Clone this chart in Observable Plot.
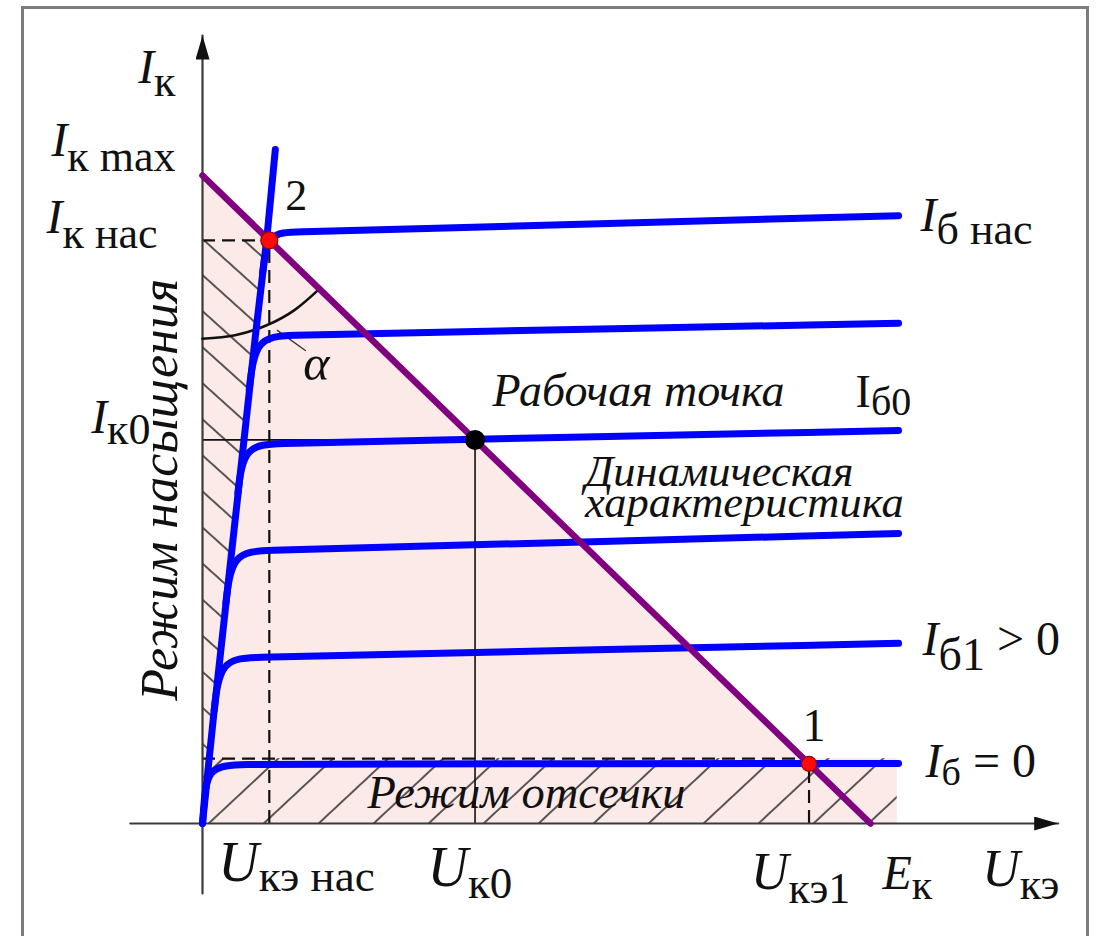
<!DOCTYPE html>
<html><head><meta charset="utf-8">
<script src="https://cdn.jsdelivr.net/npm/d3@7"></script>
<script src="https://cdn.jsdelivr.net/npm/@observablehq/plot@0.6"></script>
<style>
html,body{margin:0;padding:0;background:#fff;}
#wrap{position:relative;width:1097px;height:936px;overflow:hidden;background:#fff;}
#border{position:absolute;left:21px;top:6px;width:1068px;height:980px;border:3px solid #7c7c7c;box-sizing:border-box;pointer-events:none;}
#chart svg{display:block;}
</style></head>
<body><div id="wrap"><div id="chart"></div><div id="border"></div></div>
<script>
// ---------- data (U in arbitrary volts, I in arbitrary mA; Ek = 10, Ik max = 10) ----------
const Ek = 10, IkMax = 10;
const UkeNas = 1.0, IkNas = 9.0;        // point 2
const Uk0 = 4.08, Ik0 = 5.92;           // working point
const Uke1 = 9.08, Ik1 = 0.92;          // point 1
const IcutLevel = 1.0;                  // top of cut-off region
const UcutEnd = 10.4;                   // right end of cut-off region
const xAxisExt = [-1.08, 12.81];
const yAxisExt = [-1.08, 12.16];

const loadLine = [[0, IkMax], [Ek, 0]];
const envelope = [[0,0],[0.05,0.5],[0.16,1.6],[0.32,3.1],[0.48,4.6],[0.63,6.0],[0.80,7.6],[0.96,9.0],[1.09,10.4]];
const curveIbNas = [[0.90,8.5],[0.975,9.12],[1.4,9.13],[2.5,9.16],[10.42,9.38]];
const curve2     = [[0.70,6.7],[0.79,7.5],[1.3,7.535],[2.4,7.56],[10.42,7.72]];
const curveIb0   = [[0.53,5.1],[0.615,5.84],[1.15,5.865],[2.2,5.89],[10.42,6.065]];
const curve4     = [[0.35,3.4],[0.438,4.19],[0.98,4.215],[2.0,4.245],[10.42,4.475]];
const curveIb1   = [[0.175,1.75],[0.262,2.54],[0.8,2.565],[1.8,2.59],[10.42,2.78]];
const curveIbZero= [[0,0],[0.025,0.35],[0.075,0.88],[0.6,0.915],[1.6,0.918],[10.42,0.926]];
const curves = [curveIbNas, curve2, curveIb0, curve4, curveIb1, curveIbZero];
const alphaArc = [[0,7.48],[0.487,7.535],[0.953,7.685],[1.382,7.927],[1.75,8.25]];
const alphaLeader = [[1.12,7.61],[1.54,7.30]];

const yLabels = ["I_к", "I_к max", "I_к нас", "I_к0"];
const xLabels = ["U_кэ нас", "U_к0", "U_кэ1", "E_к", "U_кэ"];
const curveLabels = ["I_б нас", "I_б0", "I_б1_ > 0", "I_б_ = 0"];
const regionLabels = ["Режим насыщения", "Режим отсечки", "Рабочая точка", "Динамическая\nхарактеристика"];
const pointLabels = ["1", "2", "α"];

// ---------- styles ----------
const SERIF = "'Liberation Serif', 'Times New Roman', serif";
const BLUE = "#0000ff", PURPLE = "#800080", PINK = "#fbeae8", INK = "#111";
const registry = [];
let lblId = 0;
function label(text, x, y, o, sub) {
  const id = "lbl" + (lblId++);
  if (sub) registry.push({id, ...sub});
  return Plot.text([{x, y, text}], {x: "x", y: "y", text: "text", fontFamily: SERIF, fill: INK,
    lineAnchor: "bottom", textAnchor: "start", fontStyle: "italic", ariaDescription: id, ...o});
}
const sat = () => {
  const envU = d3.scaleLinear(envelope.map(d => d[1]), envelope.map(d => d[0]));
  return [[envU(IcutLevel), IcutLevel], ...envelope.filter(d => d[1] > IcutLevel && d[1] < IkNas), [envU(IkNas), IkNas]];
};
const dash = {stroke: INK, strokeWidth: 2.2, strokeDasharray: "13,7"};

const marks = [
  Plot.areaY(loadLine, {x: d => d[0], y: d => d[1], fill: PINK}),
  Plot.rect([{x1: 0, x2: UcutEnd, y1: 0, y2: IcutLevel}], {x1: "x1", x2: "x2", y1: "y1", y2: "y2", fill: PINK}),
  Plot.areaX(sat(), {x1: 0, x2: d => d[0], y: d => d[1], fill: "url(#hatchSat)"}),
  Plot.rect([{x1: 0, x2: UcutEnd, y1: 0, y2: IcutLevel}], {x1: "x1", x2: "x2", y1: "y1", y2: "y2", fill: "url(#hatchCut)"}),
  Plot.ruleY([Ik0], {x1: 0, x2: Uk0, stroke: INK, strokeWidth: 1.6}),
  Plot.ruleX([Uk0], {y1: 0, y2: Ik0, stroke: INK, strokeWidth: 1.6}),
  Plot.ruleY([IkNas], {x1: 0, x2: UkeNas, ...dash}),
  Plot.ruleX([UkeNas], {y1: 0, y2: IkNas, ...dash}),
  Plot.ruleY([IcutLevel], {x1: 0, x2: Uke1, ...dash}),
  Plot.ruleX([Uke1], {y1: 0, y2: Ik1, ...dash}),
  Plot.line([[xAxisExt[0], 0], [xAxisExt[1], 0]], {stroke: "#3a3a3a", strokeWidth: 2.2, ariaDescription: "axis"}),
  Plot.line([[0, yAxisExt[0]], [0, yAxisExt[1]]], {stroke: "#3a3a3a", strokeWidth: 2.2, ariaDescription: "axis"}),
  Plot.line(alphaArc, {curve: "natural", stroke: INK, strokeWidth: 2.6}),
  Plot.line(alphaLeader, {stroke: "#333", strokeWidth: 1.3}),
  Plot.line(envelope, {stroke: BLUE, strokeWidth: 7, strokeLinecap: "round", strokeLinejoin: "round"}),
  ...curves.map(c => Plot.line(c, {curve: "basis", stroke: BLUE, strokeWidth: 7, strokeLinecap: "round"})),
  Plot.line(loadLine, {stroke: PURPLE, strokeWidth: 6.5}),
  Plot.dot([[UkeNas, IkNas]], {r: 8.5, fill: "#ff0a0a", stroke: "#990000", strokeWidth: 1.2}),
  Plot.dot([[Uke1, Ik1]], {r: 7.5, fill: "#ff0a0a", stroke: "#990000", strokeWidth: 1.2}),
  Plot.dot([[Uk0, Ik0]], {r: 10, fill: "#000"}),
  // y-axis labels
  label(yLabels[0], 0, yAxisExt[1], {textAnchor: "end", dx: -27, dy: 47, fontSize: 48}, {sub: 44, shift: 13}),
  label(yLabels[1], 0, IkMax, {textAnchor: "end", dx: -27, dy: -20, fontSize: 48}, {sub: 44, shift: 15}),
  label(yLabels[2], 0, IkNas, {textAnchor: "end", dx: -45, dy: -7, fontSize: 48}, {sub: 44, shift: 15}),
  label(yLabels[3], 0, Ik0, {textAnchor: "end", dx: -52, dy: -7, fontSize: 48}, {sub: 44, shift: 11}),
  // x-axis labels
  label(xLabels[0], UkeNas, 0, {dx: -51, dy: 57, fontSize: 56}, {sub: 45, shift: 10}),
  label(xLabels[1], Uk0, 0, {dx: -47.5, dy: 62, fontSize: 56}, {sub: 45, shift: 12}),
  label(xLabels[2], Uke1, 0, {dx: -58, dy: 65, fontSize: 52}, {sub: 44, shift: 14}),
  label(xLabels[3], Ek, 0, {dx: 12, dy: 65, fontSize: 48}, {sub: 42, shift: 10}),
  label(xLabels[4], xAxisExt[1], 0, {dx: -76, dy: 62, fontSize: 52}, {sub: 44, shift: 13}),
  // curve labels
  label(curveLabels[0], 10.42, 9.38, {dx: 22, dy: 15, fontSize: 48}, {sub: 44, shift: 13}),
  label(curveLabels[1], 10.42, 6.065, {dx: -43, dy: -23, fontSize: 46, fontStyle: "normal"}, {sub: 40, shift: 8}),
  label(curveLabels[2], 10.42, 2.78, {dx: 24, dy: 12, fontSize: 48}, {sub: 46, shift: 15}),
  label(curveLabels[3], 10.42, 0.926, {dx: 27, dy: 14, fontSize: 48}, {sub: 38, shift: 8}),
  // region labels
  label(regionLabels[0], 0, IkNas / 2, {textAnchor: "middle", lineAnchor: "middle", rotate: -90, dx: -42, dy: -42, fontSize: 52}),
  label(regionLabels[1], 0, 0, {dx: 165, dy: -16, fontSize: 46.5}),
  label(regionLabels[2], Uk0, Ik0, {dx: 17.5, dy: -34, fontSize: 46}),
  label(regionLabels[3], Uk0, Ik0, {dx: 110, dy: 77, fontSize: 44.5, lineHeight: 0.7}),
  // point labels
  label(pointLabels[0], Uke1, Ik1, {textAnchor: "middle", dx: 5, dy: -23, fontSize: 46, fontStyle: "normal"}),
  label(pointLabels[1], UkeNas, IkNas, {textAnchor: "middle", dx: 27, dy: -30, fontSize: 44, fontStyle: "normal"}),
  label(pointLabels[2], alphaLeader[1][0], alphaLeader[1][1], {dx: -2, dy: 30, fontSize: 50})
];

const svg = Plot.plot({
  width: 1097, height: 936,
  marginTop: 0, marginRight: 0, marginBottom: 0, marginLeft: 0,
  x: {domain: [-202 / 66.8, 895 / 66.8], axis: null},
  y: {domain: [-113 / 64.8, 823 / 64.8], axis: null},
  style: {background: "white", overflow: "visible"},
  marks
});

// patterns & arrow marker
const S = d3.select(svg);
const defs = S.insert("defs", ":first-child");
const p1 = defs.append("pattern").attr("id", "hatchSat").attr("patternUnits", "userSpaceOnUse")
  .attr("width", 20).attr("height", 26.8).attr("patternTransform", "translate(0,20.6) rotate(42)");
p1.append("path").attr("d", "M0,0H20M0,26.8H20").attr("stroke", "#222").attr("stroke-width", 1.6);
const p2 = defs.append("pattern").attr("id", "hatchCut").attr("patternUnits", "userSpaceOnUse")
  .attr("width", 20).attr("height", 37.5).attr("patternTransform", "translate(-8,0) rotate(-43)");
p2.append("path").attr("d", "M0,0H20M0,37.5H20").attr("stroke", "#222").attr("stroke-width", 1.6);
const mk = defs.append("marker").attr("id", "ah").attr("viewBox", "0 0 24 14").attr("refX", 24).attr("refY", 7)
  .attr("markerWidth", 24).attr("markerHeight", 14).attr("markerUnits", "userSpaceOnUse").attr("orient", "auto");
mk.append("path").attr("d", "M0,0L24,7L0,14Z").attr("fill", "#111");

function within(key) {
  const out = [];
  S.selectAll(`[aria-description="${key}"]`).each(function () { out.push(this); });
  return out;
}
within("axis").forEach(el => {
  const paths = el.tagName === "path" ? [el] : Array.from(el.querySelectorAll("path"));
  paths.forEach(p => p.setAttribute("marker-end", "url(#ah)"));
});

// subscripts
registry.forEach(({id, sub, shift}) => {
  within(id).forEach(el => {
    const texts = el.tagName === "text" ? [el] : Array.from(el.querySelectorAll("text"));
    texts.forEach(node => {
      const parts = node.textContent.split("_");
      const t = d3.select(node);
      t.selectAll("*").remove();
      t.text(null);
      t.append("tspan").text(parts[0]);
      if (parts.length > 1) t.append("tspan").attr("dy", shift).attr("font-size", sub).attr("font-style", "normal").text(parts[1]);
      if (parts.length > 2) t.append("tspan").attr("dy", -shift).attr("font-style", "normal").text(parts[2]);
    });
  });
});

document.getElementById("chart").appendChild(svg);
</script></body></html>
